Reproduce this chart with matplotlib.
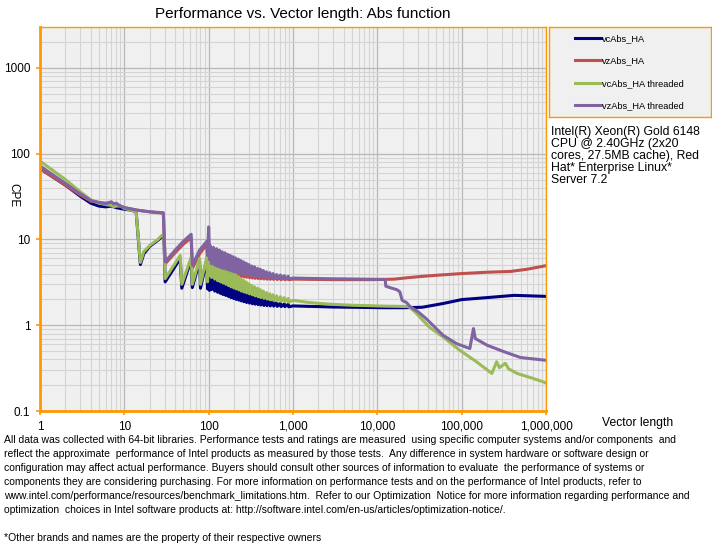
import matplotlib
matplotlib.use('Agg')
import matplotlib.pyplot as plt
from matplotlib.ticker import FixedLocator, LogLocator, NullFormatter

plt.rcParams['font.family'] = ['Liberation Sans', 'DejaVu Sans']

ORANGE = '#ff9900'

# ---- data ----
# noisy zig-zag region 104..1000: peak / trough pairs
band_x = [104, 108, 114, 118, 124, 128, 134, 138, 144, 148, 156, 160, 168, 172, 180, 184,
          194, 198, 208, 212, 224, 228, 240, 244, 258, 262, 278, 282, 300, 305, 325, 330,
          350, 356, 380, 386, 410, 416, 445, 452, 485, 492, 530, 538, 580, 590, 640, 650,
          710, 720, 790, 800, 880, 890, 1000]

vc_hi = [5.0, 4.6, 4.3, 4.0, 3.8, 3.6, 3.4, 3.2, 3.05, 2.9, 2.78, 2.66, 2.55, 2.45, 2.36, 2.28,
         2.2, 2.13, 2.07, 2.02, 1.97, 1.92, 1.88, 1.84, 1.8, 1.77, 1.75]
vc_lo = [2.6, 2.5, 2.42, 2.35, 2.28, 2.22, 2.16, 2.1, 2.05, 2.0, 1.96, 1.92, 1.88, 1.84, 1.81, 1.78,
         1.76, 1.74, 1.72, 1.7, 1.69, 1.68, 1.67, 1.66, 1.65, 1.65, 1.64]
vz_hi = [7.6, 7.3, 7.0, 6.7, 6.5, 6.3, 6.0, 5.8, 5.6, 5.4, 5.2, 5.0, 4.85, 4.7, 4.55, 4.4,
         4.3, 4.15, 4.05, 3.95, 3.85, 3.78, 3.72, 3.66, 3.6, 3.56, 3.52]
vz_lo = [4.6, 4.45, 4.3, 4.2, 4.1, 4.0, 3.95, 3.9, 3.85, 3.8, 3.75, 3.7, 3.66, 3.62, 3.58, 3.55,
         3.52, 3.5, 3.48, 3.46, 3.44, 3.43, 3.42, 3.41, 3.4, 3.4, 3.4]
vct_hi = [6.8, 6.2, 5.8, 5.4, 5.1, 4.8, 4.5, 4.3, 4.1, 3.9, 3.7, 3.5, 3.35, 3.2, 3.05, 2.9,
          2.8, 2.7, 2.6, 2.5, 2.4, 2.33, 2.26, 2.2, 2.15, 2.1, 2.05]
vct_lo = [3.6, 3.45, 3.3, 3.2, 3.1, 3.0, 2.9, 2.8, 2.72, 2.65, 2.58, 2.5, 2.44, 2.38, 2.32, 2.26,
          2.2, 2.15, 2.1, 2.06, 2.02, 1.98, 1.95, 1.92, 1.9, 1.88, 1.86]
vzt_hi = [8.5, 8.1, 7.8, 7.5, 7.2, 7.0, 6.7, 6.5, 6.3, 6.1, 5.9, 5.7, 5.5, 5.3, 5.1, 4.9,
          4.8, 4.6, 4.5, 4.35, 4.2, 4.1, 4.0, 3.9, 3.85, 3.78, 3.72]
vzt_lo = [5.2, 5.0, 4.85, 4.7, 4.6, 4.5, 4.4, 4.3, 4.2, 4.15, 4.1, 4.0, 3.95, 3.9, 3.85, 3.8,
          3.75, 3.7, 3.67, 3.64, 3.6, 3.57, 3.55, 3.52, 3.5, 3.48, 3.46]


def band(hi, lo, last):
    out = []
    for a, b in zip(hi, lo):
        out += [a, b]
    return out + [last]


vc_x = [1, 2, 3, 4, 5, 6, 7, 8, 10, 12, 13.8, 15.5, 17, 20, 25, 28, 29.5, 30.5, 46, 48,
        62, 64, 78, 80, 95, 97, 100, 102] + band_x + \
       [1500, 2000, 3000, 5000, 8000, 12000, 20000, 34000, 60000, 100000, 200000, 420000, 1000000]
vc_y = [67, 43, 32, 26.5, 24.5, 24, 24.5, 23.5, 22.5, 22, 21, 5.1, 6.8, 8.3, 9.8, 10.8, 10.8, 3.2, 6.0, 2.7,
        5.8, 2.75, 5.6, 2.7, 5.8, 2.65, 4.5, 2.55] + band(vc_hi, vc_lo, 1.68) + \
       [1.66, 1.65, 1.63, 1.62, 1.61, 1.6, 1.6, 1.62, 1.79, 1.99, 2.1, 2.23, 2.17]

vz_x = [1, 2, 3, 4, 5, 6, 7, 7.5, 8, 9, 10, 14, 20, 29, 30.5, 40, 50, 62, 64, 78, 95, 97, 100, 102] + band_x + \
       [1500, 2000, 3000, 5000, 8000, 12000, 16000, 23500, 35000, 50000, 95000, 200000, 380000, 600000, 1000000]
vz_y = [67, 43, 33, 28, 27, 26.5, 27, 26, 26, 24.5, 23.5, 22, 21, 20.2, 5.2, 7.0, 8.8, 10.5, 4.6, 6.8, 8.8, 5.5, 9.0, 5.2] + \
       band(vz_hi, vz_lo, 3.45) + \
       [3.43, 3.42, 3.4, 3.4, 3.4, 3.42, 3.45, 3.59, 3.72, 3.82, 3.99, 4.15, 4.24, 4.5, 4.95]

vct_x = [1, 2, 3, 4, 5, 6, 7, 7.5, 8, 9, 10, 12, 13.8, 15.5, 17, 20, 25, 28, 29.5, 30.5, 46, 48,
         62, 64, 78, 80, 95, 97, 100, 102] + band_x + \
        [1500, 2000, 3000, 5000, 8000, 12000, 18000, 23500, 28000, 41000, 60000, 95000, 150000,
         228000, 260000, 280000, 330000, 360000, 455000, 700000, 1000000]
vct_y = [82, 50, 36, 29, 26.5, 25.5, 25, 24, 24.5, 24.5, 23, 22, 21, 5.4, 7.2, 8.5, 10, 11.2, 11, 3.5, 6.5, 3.0,
         6.2, 3.0, 6.0, 3.0, 6.2, 3.2, 7.0, 3.8] + band(vct_hi, vct_lo, 1.95) + \
        [1.85, 1.8, 1.75, 1.71, 1.69, 1.67, 1.66, 1.65, 1.43, 0.955, 0.73, 0.51, 0.375,
         0.274, 0.375, 0.32, 0.36, 0.31, 0.274, 0.24, 0.213]

vzt_x = [1, 2, 3, 4, 5, 6, 7, 7.5, 8, 9, 10, 14, 20, 29, 30.5, 40, 50, 62, 64, 78, 95, 97, 100, 103] + band_x + \
        [1500, 2000, 3000, 5000, 8000, 12000, 12400, 12600, 14000, 17000, 18500, 19700, 22000, 24800,
         30000, 37700, 48000, 60000, 87000, 125000, 138000, 145000, 200000, 320000, 500000, 1000000]
vzt_y = [72, 45, 34, 28.5, 27, 26, 27.5, 26, 26.5, 24.5, 23.5, 22, 21, 20.5, 5.5, 7.5, 9.5, 11.5, 5.0, 7.5, 9.5, 6.5, 14, 5.8] + \
        band(vzt_hi, vzt_lo, 3.55) + \
        [3.52, 3.5, 3.48, 3.46, 3.44, 3.42, 3.4, 2.85, 2.75, 2.6, 2.45, 1.95, 1.85, 1.63,
         1.45, 1.2, 0.95, 0.765, 0.61, 0.535, 0.915, 0.7, 0.585, 0.49, 0.42, 0.39]

series_names = ['vcAbs_HA', 'vzAbs_HA', 'vcAbs_HA threaded', 'vzAbs_HA threaded']
series_colors = ['#000080', '#c0504d', '#9bbb59', '#8064a2']

x_ticks = [1, 10, 100, 1000, 10000, 100000, 1000000]
x_labels = ['1', '10', '100', '1,000', '10,000', '100,000', '1,000,000']
y_ticks = [0.1, 1, 10, 100, 1000]
y_labels = ['0.1', '1', '10', '100', '1000']

title = 'Performance vs. Vector length: Abs function'
cpu_text = ('Intel(R) Xeon(R) Gold 6148\nCPU @ 2.40GHz (2x20\ncores, 27.5MB cache), Red\n'
            'Hat* Enterprise Linux*\nServer 7.2')
footer = [
    'All data was collected with 64-bit libraries. Performance tests and ratings are measured  using specific computer systems and/or components  and',
    'reflect the approximate  performance of Intel products as measured by those tests.  Any difference in system hardware or software design or',
    'configuration may affect actual performance. Buyers should consult other sources of information to evaluate  the performance of systems or',
    'components they are considering purchasing. For more information on performance tests and on the performance of Intel products, refer to',
    'www.intel.com/performance/resources/benchmark_limitations.htm.  Refer to our Optimization  Notice for more information regarding performance and',
    'optimization  choices in Intel software products at: http://software.intel.com/en-us/articles/optimization-notice/.',
    '',
    '*Other brands and names are the property of their respective owners',
]

# ---- figure ----
W, H = 712, 546
fig = plt.figure(figsize=(W / 100, H / 100), dpi=100)
ax = fig.add_axes([40 / W, 1 - 411 / H, 506 / W, 384 / H])
ax.set_facecolor('#f0f0f0')

xs = [vc_x, vz_x, vct_x, vzt_x]
ys = [vc_y, vz_y, vct_y, vzt_y]
handles = []
for x, y, c, n in zip(xs, ys, series_colors, series_names):
    h, = ax.plot(x, y, color=c, lw=2.2, label=n)
    handles.append(h)

ax.set_xscale('log')
ax.set_yscale('log')
ax.set_xlim(1, 1e6)
ax.set_ylim(0.1, 3000)

ax.xaxis.set_major_locator(FixedLocator(x_ticks))
ax.yaxis.set_major_locator(FixedLocator(y_ticks))
ax.set_xticklabels(x_labels)
ax.set_yticklabels(y_labels)
ax.xaxis.set_minor_locator(LogLocator(base=10, subs=range(2, 10), numticks=20))
ax.yaxis.set_minor_locator(LogLocator(base=10, subs=range(2, 10), numticks=20))
ax.xaxis.set_minor_formatter(NullFormatter())
ax.yaxis.set_minor_formatter(NullFormatter())

ax.grid(True, which='major', color='#b8b8b8', lw=0.9)
ax.grid(True, which='minor', color='#d4d4d4', lw=0.8)
ax.set_axisbelow(True)
ax.tick_params(which='major', length=3, width=1.2, color=ORANGE, labelsize=8.5, pad=4)
ax.tick_params(which='minor', length=0)

for s in ['left', 'bottom']:
    ax.spines[s].set_color(ORANGE)
    ax.spines[s].set_linewidth(2.0)
for s in ['top', 'right']:
    ax.spines[s].set_color(ORANGE)
    ax.spines[s].set_linewidth(1.0)

fig.text(303 / W, 1 - 14 / H, title, ha='center', va='center', fontsize=11)
fig.text(13 / W, 1 - 195 / H, 'CPE', rotation=270, ha='center', va='center', fontsize=8.5)
fig.text(602 / W, 1 - 423 / H, 'Vector length', ha='left', va='center', fontsize=8.7)

# legend box
lax = fig.add_axes([549 / W, 1 - 117 / H, 162 / W, 90 / H])
lax.set_facecolor('#f0f0f0')
lax.set_xticks([])
lax.set_yticks([])
for s in lax.spines.values():
    s.set_color(ORANGE)
    s.set_linewidth(1.0)
lax.legend(handles, series_names, loc='upper left', bbox_to_anchor=(0.16, 0.92),
           frameon=False, fontsize=6.7, handlelength=2.8, handletextpad=0.15,
           labelspacing=1.45, borderpad=0, borderaxespad=0)

fig.text(551 / W, 1 - 126 / H, cpu_text, ha='left', va='top', fontsize=8.8, linespacing=1.0)

for i, line in enumerate(footer):
    fig.text(4 / W, 1 - (440 + 14 * i) / H, line, ha='left', va='center', fontsize=7.45)

fig.savefig('out.png', dpi=100)
